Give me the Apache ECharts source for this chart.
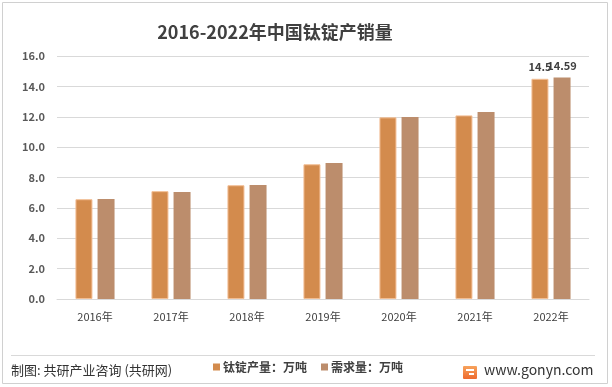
<!DOCTYPE html>
<html>
<head>
<meta charset="utf-8">
<script src="https://cdn.jsdelivr.net/npm/echarts@6/dist/echarts.min.js"></script>
<style>html,body{margin:0;padding:0;background:#fff;}#c{width:612px;height:387px;}</style>
</head>
<body>
<div id="c"></div>
<script>
const categories = ['2016年','2017年','2018年','2019年','2020年','2021年','2022年'];
const production = [6.57, 7.10, 7.49, 8.87, 11.96, 12.09, 14.5];
const demand = [6.59, 7.05, 7.51, 8.96, 11.98, 12.31, 14.59];
const seriesNames = ['钛锭产量：万吨', '需求量：万吨'];
const labeledIndex = 6;

const FONT = '"Noto Sans CJK SC", "Noto Sans", sans-serif';
const chart = echarts.init(document.getElementById('c'), null, {renderer: 'canvas'});

function lbl(arr) {
  return arr.map((v, i) => i === labeledIndex ? {value: v, label: {show: true}} : v);
}

chart.setOption({
  backgroundColor: '#fff',
  animation: false,
  title: {
    text: '2016-2022年中国钛锭产销量',
    left: 270, textAlign: 'center', top: 18,
    textStyle: {fontFamily: FONT, fontSize: 18, fontWeight: 'bold', color: '#404040'}
  },
  grid: {left: 57, right: 23, top: 56, bottom: 88},
  legend: {
    left: 208, top: 356, itemWidth: 7, itemHeight: 7, itemGap: 14,
    icon: 'rect',
    itemStyle: {borderWidth: 0},
    textStyle: {fontFamily: FONT, fontSize: 12, color: '#404040', fontWeight: 'bold', padding: [0,0,0,-2]},
    data: seriesNames
  },
  xAxis: {
    type: 'category', data: categories,
    axisLine: {lineStyle: {color: '#d9d9d9'}},
    axisTick: {show: false},
    axisLabel: {fontFamily: FONT, fontSize: 11, color: '#404040', margin: 12}
  },
  yAxis: {
    type: 'value', min: 0, max: 16, interval: 2,
    axisLine: {show: false}, axisTick: {show: false},
    splitLine: {lineStyle: {color: '#d9d9d9'}},
    axisLabel: {fontFamily: FONT, fontSize: 11, color: '#595959', fontWeight: 'bold', margin: 12,
      formatter: v => v.toFixed(1)}
  },
  series: [
    {
      name: seriesNames[0], type: 'bar', data: lbl(production),
      barWidth: 17, barGap: '30%',
      itemStyle: {color: '#D38B4D', borderColor: '#F2BE94', borderWidth: 1},
      label: {show: false, position: 'top', fontFamily: FONT, fontSize: 11, color: '#404040', fontWeight: 'bold', distance: 6}
    },
    {
      name: seriesNames[1], type: 'bar', data: lbl(demand),
      barWidth: 17,
      itemStyle: {color: '#BC8D6C'},
      label: {show: false, position: 'top', fontFamily: FONT, fontSize: 11, color: '#404040', fontWeight: 'bold', distance: 6}
    }
  ],
  graphic: [
    {type: 'rect', shape: {x: 2.5, y: 2.5, width: 605, height: 381}, style: {fill: 'none', stroke: '#d0d0d0', lineWidth: 1}, silent: true},
    {type: 'line', shape: {x1: 11, y1: 355.5, x2: 595, y2: 355.5}, style: {stroke: '#d9d9d9', lineWidth: 1}},
    {type: 'text', left: 11, top: 364, style: {text: '制图: 共研产业咨询 (共研网)', font: '13px ' + FONT, fill: '#333'}},
    {type: 'rect', shape: {x: 463, y: 366, width: 14, height: 13, r: 1},
      style: {fill: new echarts.graphic.LinearGradient(0, 0, 0, 1, [{offset: 0, color: '#F7A35C'}, {offset: 1, color: '#EE6A2F'}])}},
    {type: 'rect', shape: {x: 466, y: 369, width: 8, height: 2}, style: {fill: '#fff'}},
    {type: 'rect', shape: {x: 469, y: 373, width: 5, height: 2}, style: {fill: '#fff'}},
    {type: 'text', left: 484, top: 363, style: {text: 'www.gonyn.com', font: '14px ' + FONT, fill: '#333'}}
  ]
});
</script>
</body>
</html>
